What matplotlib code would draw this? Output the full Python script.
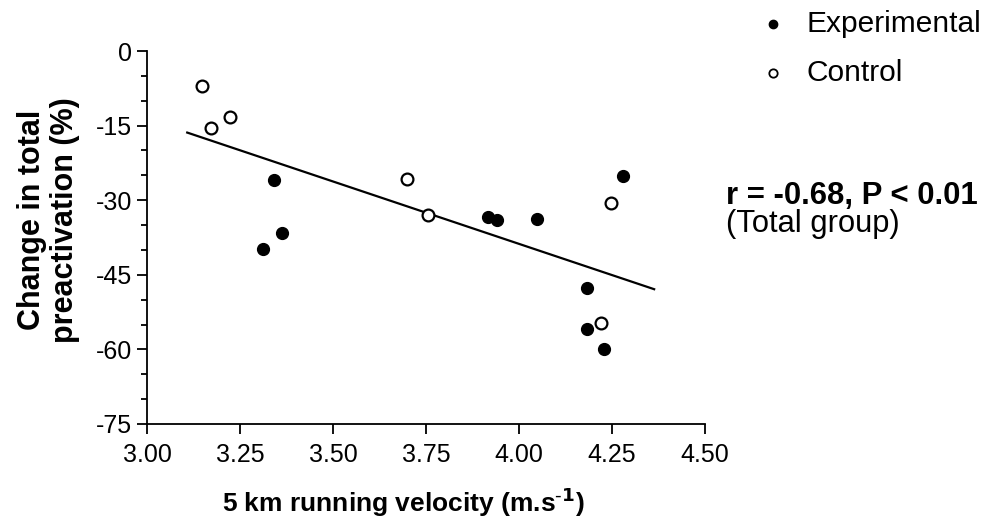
import matplotlib.pyplot as plt
from matplotlib.lines import Line2D
from matplotlib.ticker import MultipleLocator

plt.rcParams['font.family'] = ['Liberation Sans', 'DejaVu Sans']
plt.rcParams['axes.unicode_minus'] = False

# velocity (m/s) vs change in total preactivation (%)
exp_x = [3.313, 3.341, 3.364, 3.917, 3.942, 4.049, 4.184, 4.184, 4.230, 4.280]
exp_y = [-39.8, -26.0, -36.5, -33.4, -34.0, -33.7, -47.6, -55.9, -59.9, -25.1]

ctrl_x = [3.149, 3.173, 3.222, 3.700, 3.755, 4.220, 4.248]
ctrl_y = [-7.0, -15.4, -13.3, -25.8, -33.0, -54.6, -30.5]

# regression line for total group (end points)
fit_x = [3.108, 4.364]
fit_y = [-16.4, -47.9]

x_ticks = [3.00, 3.25, 3.50, 3.75, 4.00, 4.25, 4.50]
y_ticks = [0, -15, -30, -45, -60, -75]


def main():
    fig = plt.figure(figsize=(9.87, 5.26), dpi=100)
    ax = fig.add_axes([0.149, 0.194, 0.565, 0.709])

    ax.plot(fit_x, fit_y, color='black', lw=1.6)
    ax.plot(exp_x, exp_y, 'o', color='black', ms=8.5, ls='None')
    ax.plot(ctrl_x, ctrl_y, 'o', mfc='white', mec='black', mew=1.6, ms=8.5, ls='None')

    ax.set_xlim(3.0, 4.5)
    ax.set_ylim(-75, 0)
    ax.set_xticks(x_ticks)
    ax.set_xticklabels([f"{v:.2f}" for v in x_ticks])
    ax.set_yticks(y_ticks)
    ax.yaxis.set_minor_locator(MultipleLocator(5))

    for s in ['top', 'right']:
        ax.spines[s].set_visible(False)
    for s in ['left', 'bottom']:
        ax.spines[s].set_linewidth(1.3)
    ax.tick_params(which='major', length=7, width=1.3, labelsize=18, direction='out', pad=4)
    ax.tick_params(axis='x', which='major', pad=7)
    ax.tick_params(which='minor', length=4, width=1.3)

    ax.set_xlabel("5 km running velocity (m.s$^{\\mathbf{\\text{-}1}}$)", fontsize=19,
                  fontweight='bold')
    ax.xaxis.set_label_coords(0.46, -0.165)
    ax.set_ylabel("Change in total\npreactivation (%)", fontsize=22,
                  fontweight='bold', linespacing=1.15)
    ax.yaxis.set_label_coords(-0.12, 0.547)

    # legend
    fig.add_artist(Line2D([0.783], [0.954], marker='o', color='black', ms=6,
                          ls='None', transform=fig.transFigure))
    fig.add_artist(Line2D([0.783], [0.861], marker='o', mfc='white', mec='black',
                          mew=1.3, ms=6, ls='None', transform=fig.transFigure))
    fig.text(0.817, 0.954, "Experimental", fontsize=21.5, va='center')
    fig.text(0.817, 0.861, "Control", fontsize=21.5, va='center')

    fig.text(0.736, 0.628, "r = -0.68, P < 0.01", fontsize=22.4, fontweight='bold', va='center')
    fig.text(0.736, 0.574, "(Total group)", fontsize=22.2, va='center')

    plt.savefig('out.png', dpi=100)
    plt.close()


if __name__ == "__main__":
    main()
